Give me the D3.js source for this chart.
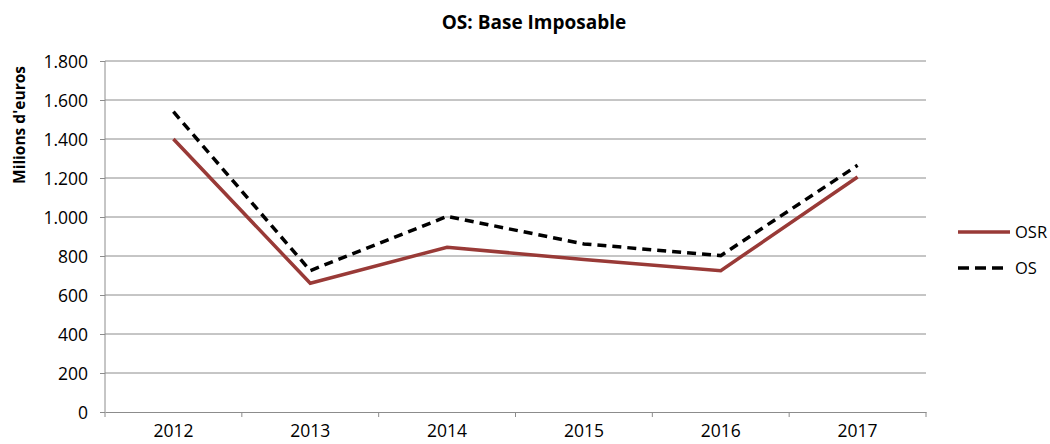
<!DOCTYPE html>
<html lang="fr">
<head>
  <meta charset="UTF-8">
  <script src="https://d3js.org/d3.v7.min.js"></script>
  <title>OS: Base Imposable</title>
  <style>
    body { margin: 0; background: #fff; }
    text { font-family: "Open Sans", sans-serif; fill: #000; }
  </style>
</head>
<body>
<div id="chart"></div>
<script>
const years = ["2012", "2013", "2014", "2015", "2016", "2017"];
const osr = [1400, 660, 845, 782, 725, 1205];
const os = [1540, 725, 1003, 862, 802, 1265];
const yTicks = [0, 200, 400, 600, 800, 1000, 1200, 1400, 1600, 1800];
const seriesNames = ["OSR", "OS"];

const width = 1050, height = 444;
const margin = { top: 61, right: 124, bottom: 32, left: 105 };

const svg = d3.select("#chart").append("svg")
  .attr("width", width)
  .attr("height", height);

const x = d3.scaleBand()
  .domain(years)
  .range([margin.left, width - margin.right]);

const y = d3.scaleLinear()
  .domain([0, 1800])
  .range([height - margin.bottom, margin.top]);

const fmt = v => d3.format(",")(v).replace(/,/g, ".");

// gridlines
svg.append("g")
  .selectAll("line")
  .data(yTicks.filter(d => d > 0))
  .enter().append("line")
  .attr("x1", margin.left)
  .attr("x2", width - margin.right)
  .attr("y1", d => y(d))
  .attr("y2", d => y(d))
  .attr("stroke", "#8c8c8c")
  .attr("stroke-width", 1);

// y axis
const yAxis = svg.append("g")
  .attr("transform", `translate(${margin.left},0)`)
  .call(d3.axisLeft(y).tickValues(yTicks).tickFormat(fmt).tickSize(5).tickPadding(12));
yAxis.selectAll("line, path").attr("stroke", "#8c8c8c");
yAxis.select(".domain").attr("d", `M0,${y(0)}V${y(1800)}`);
yAxis.selectAll("text").style("font-size", "17.5px").attr("dy", "0.35em");

// x axis
const xAxis = svg.append("g")
  .attr("transform", `translate(0,${y(0)})`)
  .call(d3.axisBottom(x).tickSize(0).tickPadding(13));
xAxis.select(".domain").attr("stroke", "#8c8c8c");
xAxis.selectAll("text").style("font-size", "17.5px");
// tick marks between categories
const bounds = years.map(d => x(d)).concat([x(years[years.length - 1]) + x.bandwidth()]);
xAxis.selectAll(".sep")
  .data(bounds)
  .enter().append("line")
  .attr("class", "sep")
  .attr("x1", d => d).attr("x2", d => d)
  .attr("y1", 0).attr("y2", 5)
  .attr("stroke", "#8c8c8c");

const line = d3.line()
  .x((d, i) => x(years[i]) + x.bandwidth() / 2)
  .y(d => y(d));

svg.append("path")
  .datum(osr)
  .attr("fill", "none")
  .attr("stroke", "#993a37")
  .attr("stroke-width", 3.5)
  .attr("d", line);

svg.append("path")
  .datum(os)
  .attr("fill", "none")
  .attr("stroke", "#000")
  .attr("stroke-width", 3.5)
  .attr("stroke-dasharray", "9,6")
  .attr("d", line);

// title
svg.append("text")
  .attr("x", 534)
  .attr("y", 29)
  .attr("text-anchor", "middle")
  .style("font-size", "19px")
  .style("font-weight", "bold")
  .text("OS: Base Imposable");

// y label
svg.append("text")
  .attr("transform", "translate(25,125) rotate(-90)")
  .attr("text-anchor", "middle")
  .style("font-size", "15.5px")
  .style("font-weight", "bold")
  .text("Milions d'euros");

// legend
const legend = svg.append("g");
const styles = [
  { stroke: "#993a37", dash: null, end: 1010 },
  { stroke: "#000", dash: "11,6", end: 1004 }
];
seriesNames.forEach((name, i) => {
  const ly = 232 + i * 36;
  legend.append("line")
    .attr("x1", 958).attr("x2", styles[i].end)
    .attr("y1", ly).attr("y2", ly)
    .attr("stroke", styles[i].stroke)
    .attr("stroke-width", 3.5)
    .attr("stroke-dasharray", styles[i].dash);
  legend.append("text")
    .attr("x", 1015)
    .attr("y", ly + 6)
    .style("font-size", "16.5px")
    .text(name);
});
</script>
</body>
</html>
